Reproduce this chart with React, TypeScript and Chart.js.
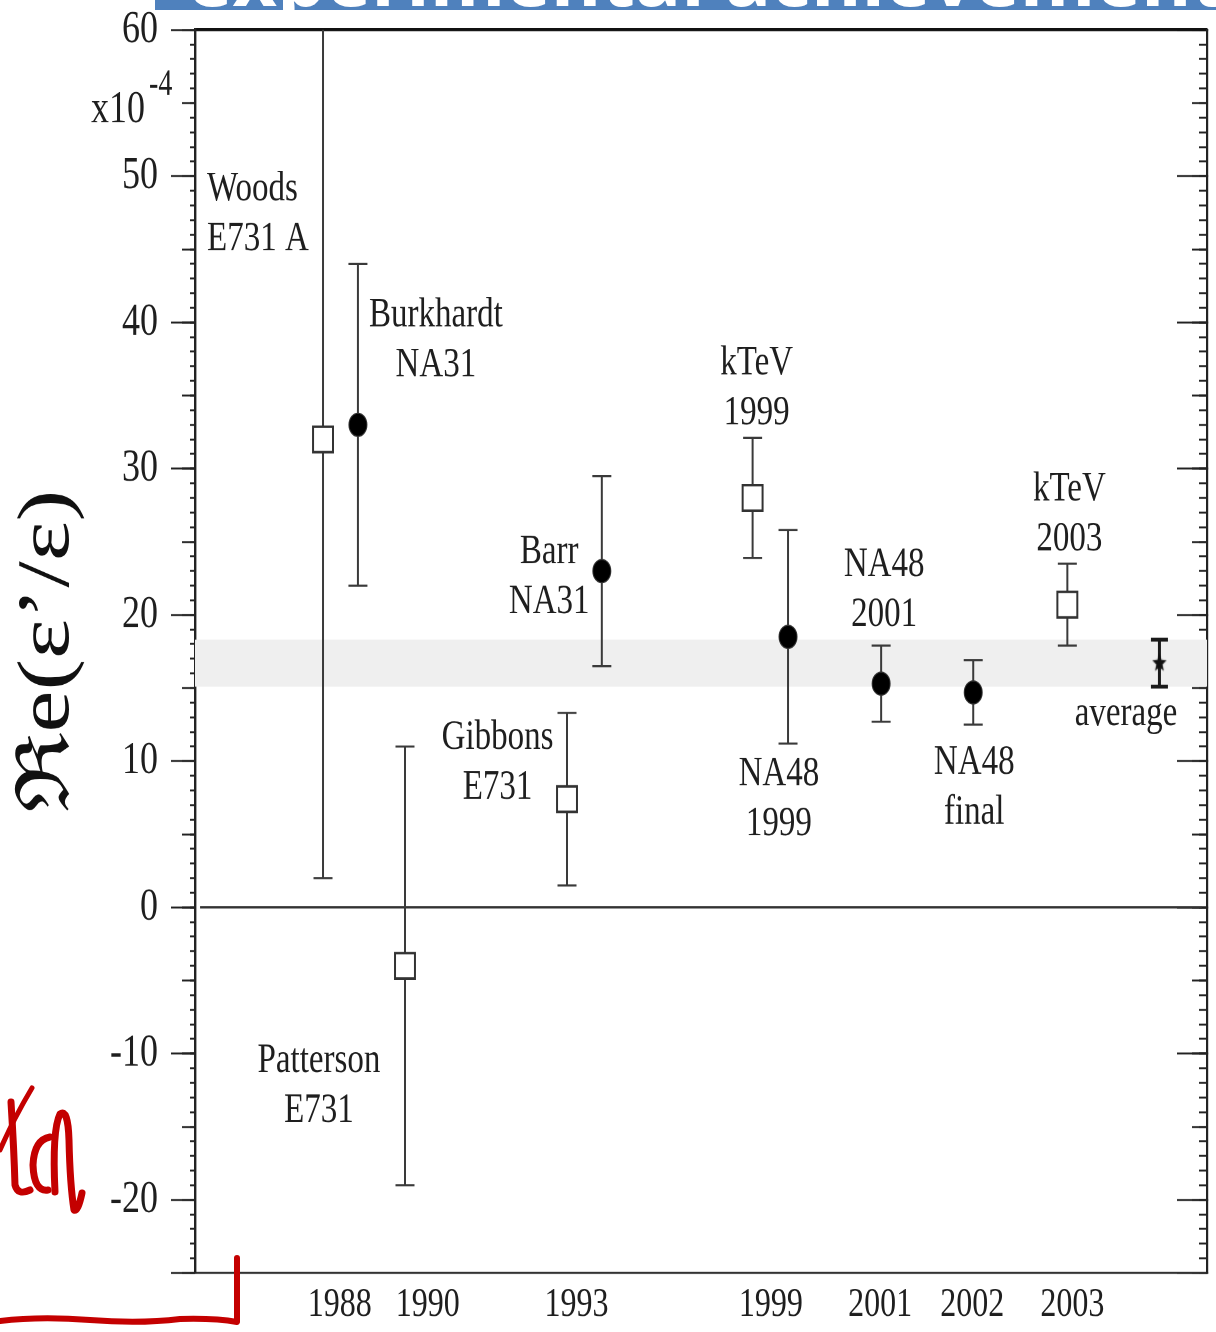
import React, { useEffect, useRef } from "react";
import { Chart, registerables } from "chart.js";
Chart.register(...registerables);

// The reference picture is stretched vertically; the chart is drawn at natural
// size and stretched the same way.
const STRETCH = 1.28;
const W = 1216;
const H = 1332;
const CH = Math.round(H / STRETCH);

// ---- data ----
const experiments = [
  "Woods E731 A", "Burkhardt NA31", "Patterson E731", "Gibbons E731", "Barr NA31",
  "kTeV 1999", "NA48 1999", "NA48 2001", "NA48 final", "kTeV 2003",
];
const xPos = [12.65, 16.1, 20.75, 36.76, 40.2, 55.1, 58.6, 67.8, 76.9, 86.2];
const values = [32, 33, -4, 7.4, 23, 28, 18.5, 15.3, 14.7, 20.7];
const errors = [30, 11, 15, 5.9, 6.5, 4.1, 7.3, 2.6, 2.2, 2.8];
const markers = ["square", "circle", "square", "square", "circle", "square", "circle", "circle", "circle", "square"];

const avgX = [95.3];
const avgValue = [16.7];
const avgError = [1.6];

const xTickPos = [14.3, 23.0, 37.7, 56.9, 67.7, 76.8, 86.7];
const xTickLabels = ["1988", "1990", "1993", "1999", "2001", "2002", "2003"];

const yMin = -25;
const yMax = 60;
const yMajor = 10;

const labelText = [
  ["Woods", "E731 A"], ["Burkhardt", "NA31"], ["Patterson", "E731"], ["Gibbons", "E731"],
  ["Barr", "NA31"], ["kTeV", "1999"], ["NA48", "1999"], ["NA48", "2001"], ["NA48", "final"],
  ["kTeV", "2003"], ["average"],
];
const labelX = [1.19, 23.8, 12.25, 29.9, 35.0, 55.5, 57.7, 68.1, 77.0, 86.4, 92.0];
const labelY = [49.1, 40.5, -10.5, 11.6, 24.3, 37.2, 9.1, 23.4, 9.9, 28.6, 13.2];
const labelAlign = ["left", "center", "center", "center", "center", "center", "center", "center", "center", "center", "center"];

const SERIF = "'Liberation Serif', 'Times New Roman', serif";

function makeStar(size: number) {
  const c = document.createElement("canvas");
  c.width = size;
  c.height = size;
  const g = c.getContext("2d")!;
  g.fillStyle = "#111";
  g.beginPath();
  for (let i = 0; i < 10; i++) {
    const r = i % 2 === 0 ? size / 2 : size / 4.6;
    const a = -Math.PI / 2 + (i * Math.PI) / 5;
    g.lineTo(size / 2 + r * Math.cos(a), size / 2 + r * Math.sin(a));
  }
  g.closePath();
  g.fill();
  return c;
}

const labelsPlugin = {
  id: "labelsPlugin",
  afterDraw(chart: any) {
    const { ctx, scales } = chart;
    const xs = scales.x;
    const ys = scales.y;
    ctx.save();
    ctx.fillStyle = "#1e1e1e";
    ctx.font = `33px ${SERIF}`;
    ctx.textBaseline = "middle";
    labelText.forEach((lines, i) => {
      const px = xs.getPixelForValue(labelX[i]);
      const py = ys.getPixelForValue(labelY[i]);
      ctx.textAlign = labelAlign[i];
      lines.forEach((t, j) => ctx.fillText(t, px, py + j * 39));
    });
    // exponent
    const left = chart.chartArea.left;
    ctx.textAlign = "right";
    ctx.font = `36px ${SERIF}`;
    ctx.fillText("x10", left - 50, ys.getPixelForValue(54.5));
    ctx.textAlign = "left";
    ctx.font = `28px ${SERIF}`;
    ctx.fillText("-4", left - 46, ys.getPixelForValue(56.2));
    ctx.restore();
  },
};

function noPad(s: any) {
  s.paddingTop = 0;
  s.paddingBottom = 0;
}

function tickAxis(position: string, step: number, len: number, width: number, weight: number, fitW: number) {
  return {
    type: "linear",
    position,
    min: yMin,
    max: yMax,
    weight,
    ticks: { display: false, stepSize: step, maxTicksLimit: 1000 },
    grid: { drawOnChartArea: false, drawTicks: true, tickLength: len, tickWidth: width, tickColor: "#222", color: "#222" },
    border: { display: false },
    afterFit: (s: any) => { s.width = fitW; noPad(s); },
  };
}

export default function App() {
  const ref = useRef<HTMLCanvasElement>(null);
  useEffect(() => {
    document.body.style.margin = "0";
    const errData: any[] = [];
    xPos.forEach((x, i) => {
      errData.push({ x, y: values[i] - errors[i] }, { x, y: values[i] + errors[i] }, { x, y: null });
    });
    const avgErrData: any[] = [];
    avgX.forEach((x, i) => {
      avgErrData.push({ x, y: avgValue[i] - avgError[i] }, { x, y: avgValue[i] + avgError[i] }, { x, y: null });
    });
    const star = makeStar(15);
    const chart = new Chart(ref.current!, {
      type: "scatter",
      data: {
        datasets: [
          {
            label: "band-up",
            type: "line",
            data: [{ x: 0, y: avgValue[0] + avgError[0] }, { x: 100, y: avgValue[0] + avgError[0] }],
            fill: "+1",
            backgroundColor: "#efefef",
            borderWidth: 0,
            pointRadius: 0,
            order: 10,
          },
          {
            label: "band-low",
            type: "line",
            data: [{ x: 0, y: avgValue[0] - avgError[0] }, { x: 100, y: avgValue[0] - avgError[0] }],
            fill: false,
            borderWidth: 0,
            pointRadius: 0,
            order: 9,
          },
          {
            label: "zero",
            type: "line",
            data: [{ x: 0.5, y: 0 }, { x: 99.5, y: 0 }],
            borderColor: "#333",
            borderWidth: 1.7,
            pointRadius: 0,
            order: 5,
          },
          {
            label: "errors",
            type: "line",
            data: errData,
            borderColor: "#3a3a3a",
            borderWidth: 2,
            spanGaps: false,
            pointStyle: "line",
            pointRadius: 9.5,
            pointBorderWidth: 1.7,
            pointBorderColor: "#3a3a3a",
            order: 2,
          },
          {
            label: "avg-error",
            type: "line",
            data: avgErrData,
            borderColor: "#1a1a1a",
            borderWidth: 3,
            spanGaps: false,
            pointStyle: "line",
            pointRadius: 8.5,
            pointBorderWidth: 3,
            pointBorderColor: "#1a1a1a",
            order: 2,
          },
          {
            label: "Re(eps'/eps)",
            data: xPos.map((x, i) => ({ x, y: values[i], name: experiments[i] })),
            pointStyle: (c: any) => (markers[c.dataIndex] === "square" ? "rect" : "circle"),
            pointRadius: (c: any) => (markers[c.dataIndex] === "square" ? 14.1 : 9),
            backgroundColor: (c: any) => (markers[c.dataIndex] === "square" ? "#ffffff" : "#000000"),
            borderColor: "#333",
            borderWidth: (c: any) => (markers[c.dataIndex] === "square" ? 2 : 1),
            order: 0,
          },
          {
            label: "average",
            data: avgX.map((x, i) => ({ x, y: avgValue[i] })),
            pointStyle: star as any,
            pointRadius: 8,
            order: 0,
          },
        ] as any,
      },
      options: {
        animation: false,
        responsive: false,
        maintainAspectRatio: false,
        devicePixelRatio: 2,
        layout: { autoPadding: false, padding: { top: 23.4, right: 0, bottom: 0, left: 0 } },
        plugins: { legend: { display: false }, tooltip: { enabled: false } },
        scales: {
          x: {
            type: "linear",
            position: "bottom",
            min: 0,
            max: 100,
            afterBuildTicks: (s: any) => { s.ticks = xTickPos.map((v) => ({ value: v })); },
            ticks: {
              autoSkip: false,
              maxRotation: 0,
              padding: 6,
              color: "#1e1e1e",
              font: { family: SERIF, size: 32 },
              callback: (v: any) => xTickLabels[xTickPos.indexOf(v)] ?? "",
            },
            grid: { drawOnChartArea: false, drawTicks: false, color: "rgba(0,0,0,0)" },
            border: { display: true, color: "#333", width: 1.8 },
            afterFit: (s: any) => { s.height = CH - 994.5; s.paddingLeft = 0; s.paddingRight = 0; },
          },
          x2: {
            type: "linear",
            position: "top",
            min: 0,
            max: 100,
            ticks: { display: false },
            grid: { drawOnChartArea: false, drawTicks: false, color: "rgba(0,0,0,0)" },
            border: { display: true, color: "#111", width: 2.4 },
            afterFit: (s: any) => { s.height = 0; s.paddingLeft = 0; s.paddingRight = 0; },
          },
          y: {
            type: "linear",
            position: "left",
            min: yMin,
            max: yMax,
            weight: 2,
            ticks: {
              stepSize: yMajor,
              padding: 13,
              color: "#1e1e1e",
              font: { family: SERIF, size: 36 },
              callback: (v: any) => (v % yMajor === 0 ? String(v) : ""),
            },
            grid: { drawOnChartArea: false, drawTicks: true, tickLength: 24, tickWidth: 1.6, tickColor: "#222" },
            border: { display: true, color: "#222", width: 2.4 },
            title: {
              display: true,
              text: "ℜe(ε’/ε)",
              color: "#111",
              font: { family: SERIF, size: 74, lineHeight: 1 },
              padding: { top: 12, bottom: 0 },
            },
            afterFit: (s: any) => { s.width = 195; noPad(s); },
          },
          yMid: tickAxis("left", 5, 13, 1.5, 1, 0),
          yMinor: tickAxis("left", 1, 5, 1.5, 0, 0),
          yR: {
            ...tickAxis("right", 10, -30, 1.6, 2, W - 1207),
            border: { display: true, color: "#222", width: 2.2 },
          },
          yRMid: tickAxis("right", 5, -15, 1.5, 1, 0),
          yRMinor: tickAxis("right", 1, -8, 1.5, 0, 0),
        } as any,
      },
      plugins: [labelsPlugin],
    });
    return () => chart.destroy();
  }, []);

  return (
    <div style={{ position: "relative", width: W, height: H, overflow: "hidden", background: "#fff" }}>
      <div
        style={{
          position: "absolute",
          left: 0,
          top: 0,
          width: W,
          height: CH,
          transform: `scaleY(${STRETCH})`,
          transformOrigin: "0 0",
        }}
      >
        <canvas ref={ref} width={W} height={CH} style={{ display: "block", width: W, height: CH }} />
      </div>
      <div
        style={{
          position: "absolute",
          left: 155,
          top: 0,
          width: W - 155,
          height: 10,
          background: "#4f81bd",
          overflow: "hidden",
        }}
      >
        <span
          style={{
            position: "absolute",
            left: 32,
            top: -62,
            whiteSpace: "nowrap",
            color: "#fff",
            fontFamily: "'Open Sans', sans-serif",
            fontWeight: 700,
            fontSize: 77,
            lineHeight: "77px",
          }}
        >
          experimental achievement
        </span>
      </div>
      <svg width={W} height={H} style={{ position: "absolute", left: 0, top: 0, pointerEvents: "none" }}>
        <g fill="none" stroke="#c40000" strokeLinecap="round" strokeLinejoin="round">
          <path d="M0 1321 Q 40 1316 90 1320 T 180 1319 Q 215 1318 237 1322 L 237 1258" strokeWidth={6} />
          <path d="M32 1088 Q 14 1118 0 1150" strokeWidth={5} />
          <path d="M11 1102 Q 14 1150 15 1185 Q 18 1196 30 1190" strokeWidth={7} />
          <path d="M50 1137 Q 34 1140 33 1165 Q 34 1192 48 1190" strokeWidth={7} />
          <path d="M55 1192 Q 52 1130 60 1114 Q 68 1108 69 1140 Q 70 1185 74 1210 Q 78 1212 82 1193" strokeWidth={7} />
        </g>
      </svg>
    </div>
  );
}
